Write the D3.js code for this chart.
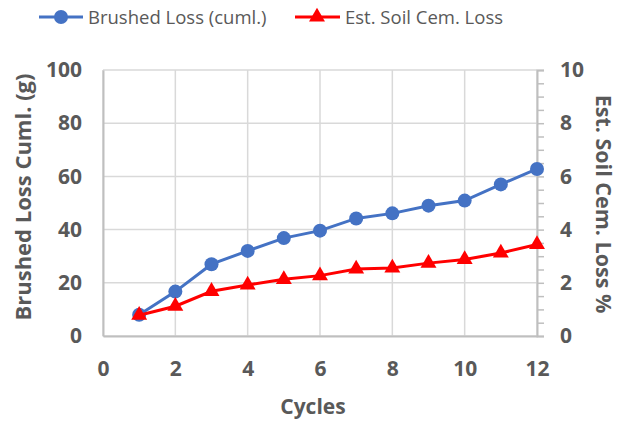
<!DOCTYPE html>
<html>
<head>
<meta charset="utf-8">
<script src="https://cdn.jsdelivr.net/npm/d3@7"></script>
<style>
  body { margin: 0; background: #fff; }
  text { font-family: "Open Sans", "Liberation Sans", sans-serif; font-weight: bold; fill: #595959; }
  .legend text { font-weight: normal; }
</style>
</head>
<body>
<svg class="container"></svg>
<script>
const cycles = [1, 2, 3, 4, 5, 6, 7, 8, 9, 10, 11, 12];
const brushedLoss = [8, 16.7, 27, 32, 36.8, 39.6, 44.2, 46.1, 49, 50.9, 57, 62.8];
const soilCemLoss = [0.78, 1.12, 1.68, 1.92, 2.13, 2.27, 2.52, 2.56, 2.74, 2.88, 3.12, 3.44];
const xTicks = [0, 2, 4, 6, 8, 10, 12];
const yLeftTicks = [0, 20, 40, 60, 80, 100];
const yRightTicks = [0, 2, 4, 6, 8, 10];

const width = 619;
const height = 425;
const margin = { top: 70, right: 82, bottom: 89, left: 103 };

const svg = d3.select(".container").attr("width", width).attr("height", height);

const x = d3.scaleLinear().domain([0, 12]).range([margin.left, width - margin.right]);
const yL = d3.scaleLinear().domain([0, 100]).range([height - margin.bottom, margin.top]);
const yR = d3.scaleLinear().domain([0, 10]).range([height - margin.bottom, margin.top]);

// grid
svg.append("g")
  .selectAll("line.h")
  .data(yLeftTicks)
  .enter()
  .append("line")
  .attr("x1", x(0)).attr("x2", x(12))
  .attr("y1", (d) => yL(d)).attr("y2", (d) => yL(d))
  .attr("stroke", "#d9d9d9").attr("stroke-width", 1.5);

svg.append("g")
  .selectAll("line.v")
  .data(xTicks)
  .enter()
  .append("line")
  .attr("x1", (d) => x(d)).attr("x2", (d) => x(d))
  .attr("y1", yL(0)).attr("y2", yL(100))
  .attr("stroke", "#d9d9d9").attr("stroke-width", 1.5);

// axes
const xAxis = svg.append("g")
  .attr("transform", `translate(0,${yL(0)})`)
  .call(d3.axisBottom(x).tickValues(xTicks).tickSize(0).tickPadding(25));
const leftAxis = svg.append("g")
  .attr("transform", `translate(${x(0)},0)`)
  .call(d3.axisLeft(yL).tickValues(yLeftTicks).tickSize(0).tickPadding(21));
const rightAxis = svg.append("g")
  .attr("transform", `translate(${x(12)},0)`)
  .call(d3.axisRight(yR).ticks(20).tickFormat((d) => (yRightTicks.includes(d) ? d : "")).tickSize(7).tickPadding(16));

[xAxis, leftAxis, rightAxis].forEach((g) => {
  g.select(".domain").attr("stroke", "#bfbfbf").attr("stroke-width", 2);
  g.selectAll(".tick line").attr("stroke", "#bfbfbf").attr("stroke-width", 1.5);
  g.selectAll("text").style("font-size", "21px").attr("fill", "#595959");
});

// lines
const lineL = d3.line().x((d, i) => x(cycles[i])).y((d) => yL(d));
const lineR = d3.line().x((d, i) => x(cycles[i])).y((d) => yR(d));

svg.append("path").datum(brushedLoss).attr("d", lineL)
  .attr("fill", "none").attr("stroke", "#4472c4").attr("stroke-width", 3);
svg.append("g").selectAll("circle").data(brushedLoss).enter().append("circle")
  .attr("cx", (d, i) => x(cycles[i])).attr("cy", (d) => yL(d)).attr("r", 7)
  .attr("fill", "#4472c4");

const tri = d3.symbol().type(d3.symbolTriangle).size(110);
svg.append("path").datum(soilCemLoss).attr("d", lineR)
  .attr("fill", "none").attr("stroke", "#ff0000").attr("stroke-width", 3);
svg.append("g").selectAll("path").data(soilCemLoss).enter().append("path")
  .attr("d", tri)
  .attr("transform", (d, i) => `translate(${x(cycles[i])},${yR(d)})`)
  .attr("fill", "#ff0000");

// axis titles
svg.append("text").attr("x", 313).attr("y", 414)
  .attr("text-anchor", "middle").style("font-size", "21px").text("Cycles");
svg.append("text")
  .attr("transform", "translate(31,197) rotate(-90)")
  .attr("text-anchor", "middle").style("font-size", "22px").text("Brushed Loss Cuml. (g)");
svg.append("text")
  .attr("transform", "translate(596,204) rotate(90)")
  .attr("text-anchor", "middle").style("font-size", "21.5px").text("Est. Soil Cem. Loss %");

// legend
const legend = svg.append("g").attr("class", "legend");
legend.append("line").attr("x1", 39).attr("x2", 83).attr("y1", 17).attr("y2", 17)
  .attr("stroke", "#4472c4").attr("stroke-width", 3);
legend.append("circle").attr("cx", 61).attr("cy", 17).attr("r", 7).attr("fill", "#4472c4");
legend.append("text").attr("x", 88).attr("y", 24).style("font-size", "18.5px").text("Brushed Loss (cuml.)");
legend.append("line").attr("x1", 295).attr("x2", 340).attr("y1", 17).attr("y2", 17)
  .attr("stroke", "#ff0000").attr("stroke-width", 3);
legend.append("path").attr("d", tri).attr("transform", "translate(317,17)").attr("fill", "#ff0000");
legend.append("text").attr("x", 345).attr("y", 24).style("font-size", "18.5px").text("Est. Soil Cem. Loss");
</script>
</body>
</html>
